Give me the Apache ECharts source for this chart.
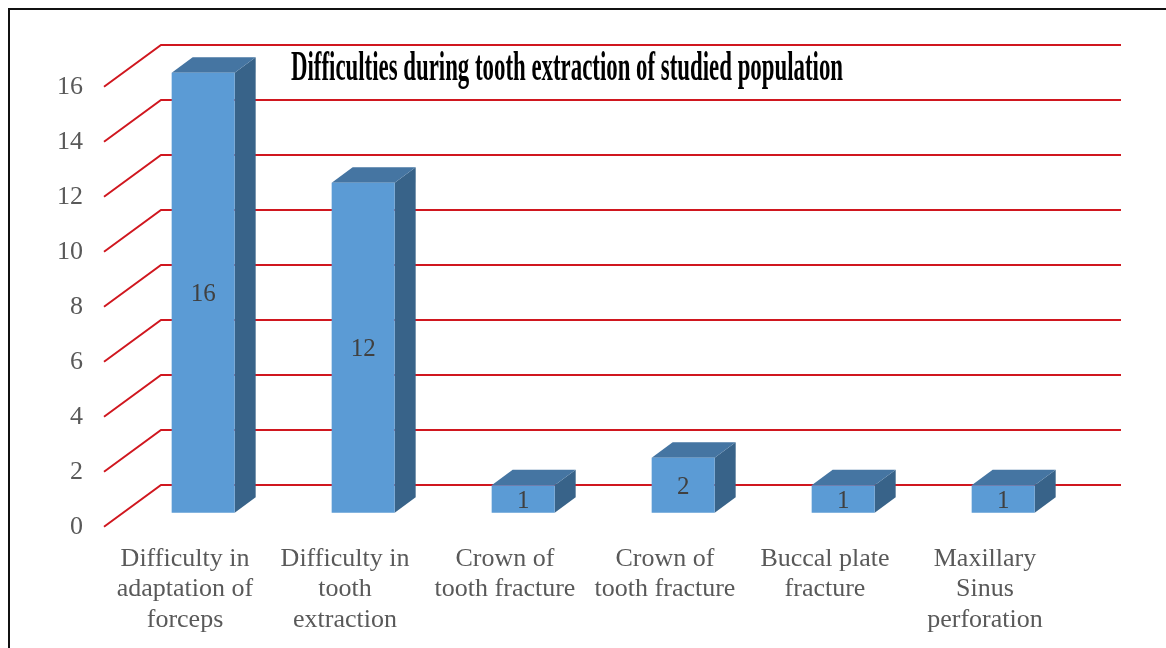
<!DOCTYPE html>
<html>
<head>
<meta charset="utf-8">
<script src="https://cdn.jsdelivr.net/npm/echarts@6/dist/echarts.min.js"></script>
<style>
  html, body { margin: 0; padding: 0; background: #fff; }
  #chart { width: 1166px; height: 648px; }
</style>
</head>
<body>
<div id="chart"></div>
<script>
// data
const categories = [
  "Difficulty in\nadaptation of\nforceps",
  "Difficulty in\ntooth\nextraction",
  "Crown of\ntooth fracture",
  "Crown of\ntooth fracture",
  "Buccal plate\nfracture",
  "Maxillary\nSinus\nperforation"
];
const counts = [16, 12, 1, 2, 1, 1];
const yTicks = [0, 2, 4, 6, 8, 10, 12, 14, 16];
const titleText = "Difficulties during tooth extraction of studied population";

const chart = echarts.init(document.getElementById("chart"));

// depth of the fake 3d box (back wall offset from front plane)
const DX = 56, DY = -41.7;
const serif = '"Liberation Serif", "Times New Roman", serif';

// condensed title: measure then squeeze to the width in the picture
const titleFont = "bold 43px " + serif;
const ctx = document.createElement("canvas").getContext("2d");
ctx.font = titleFont;
const titleScale = 552 / ctx.measureText(titleText).width;

function renderGrid(params, api) {
  const cs = params.coordSys;
  const y = api.coord([0, api.value(1)])[1];
  return {
    type: "polyline",
    shape: {
      points: [
        [cs.x - 1, y],
        [cs.x + DX, y + DY],
        [cs.x + cs.width + DX, y + DY]
      ]
    },
    style: { stroke: "#d0171f", lineWidth: 2, fill: null },
    z2: 1
  };
}

function renderBar(params, api) {
  const i = api.value(0);
  const v = api.value(1);
  const base = api.coord([i, 0]);
  const top = api.coord([i, v]);
  const w = 63;
  const cx = base[0] + DX / 3 - 0.5;
  const x0 = cx - w / 2, x1 = cx + w / 2;
  const yb = base[1] + DY / 3, yt = top[1] + DY / 3;
  const dx = DX * 0.375, dy = DY * 0.375;
  return {
    type: "group",
    children: [
      {
        type: "polygon",
        shape: { points: [[x1, yt], [x1 + dx, yt + dy], [x1 + dx, yb + dy], [x1, yb]] },
        style: { fill: "#386389" }
      },
      {
        type: "polygon",
        shape: { points: [[x0, yt], [x0 + dx, yt + dy], [x1 + dx, yt + dy], [x1, yt]] },
        style: { fill: "#4575a2" }
      },
      {
        type: "rect",
        shape: { x: x0, y: yt, width: w, height: yb - yt },
        style: { fill: "#5b9bd5" }
      },
      {
        type: "text",
        x: cx,
        y: (yt + yb) / 2 + 2,
        style: {
          text: String(v),
          font: "25px " + serif,
          fill: "#404040",
          align: "center",
          verticalAlign: "middle"
        }
      }
    ]
  };
}

const option = {
  animation: false,
  grid: { left: 105, right: 101, top: 86.7, bottom: 121.3 },
  graphic: [
    {
      type: "rect",
      shape: { x: 9, y: 9, width: 1200, height: 700 },
      style: { fill: null, stroke: "#111", lineWidth: 2 },
      silent: true
    },
    {
      type: "text",
      x: 291,
      y: 69,
      scaleX: titleScale,
      z: 10,
      style: {
        text: titleText,
        font: titleFont,
        fill: "#000",
        align: "left",
        verticalAlign: "middle"
      }
    }
  ],
  xAxis: {
    type: "category",
    data: categories,
    axisLine: { show: false },
    axisTick: { show: false },
    axisLabel: {
      interval: 0,
      margin: 17,
      color: "#595959",
      fontFamily: serif,
      fontSize: 26,
      lineHeight: 30.5
    }
  },
  yAxis: {
    type: "value",
    min: 0,
    max: 16,
    interval: 2,
    axisLine: { show: false },
    axisTick: { show: false },
    splitLine: { show: false },
    axisLabel: {
      margin: 22,
      padding: [4, 0, 0, 0],
      color: "#595959",
      fontFamily: serif,
      fontSize: 26
    }
  },
  series: [
    {
      type: "custom",
      renderItem: renderGrid,
      data: yTicks.map(t => [0, t]),
      encode: { x: 0, y: 1 },
      silent: true,
      z: 1
    },
    {
      type: "custom",
      renderItem: renderBar,
      data: counts.map((c, i) => [i, c]),
      encode: { x: 0, y: 1 },
      z: 2
    }
  ]
};

chart.setOption(option);
</script>
</body>
</html>
